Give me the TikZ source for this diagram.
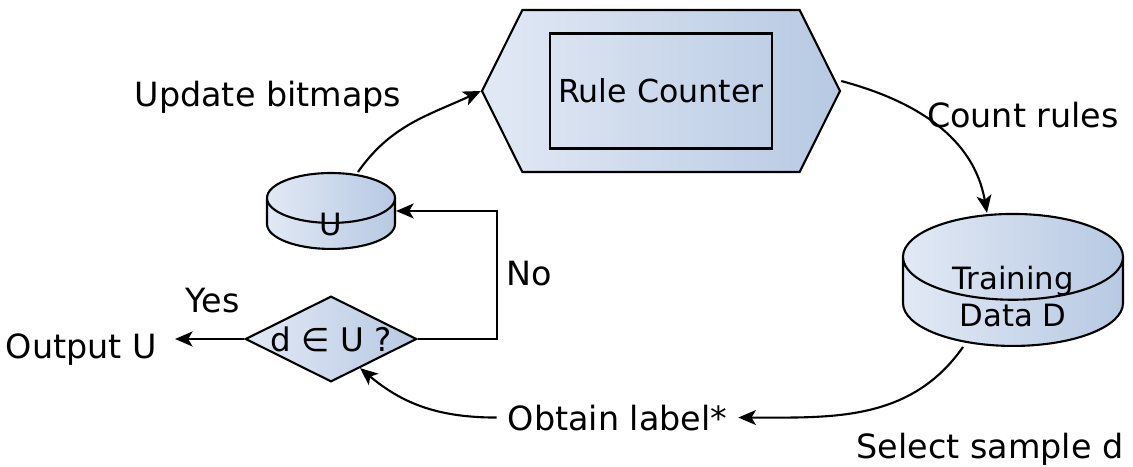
\documentclass[tikz,border=0pt]{standalone}
\usepackage{fontspec}
\setmainfont{DejaVu Sans}
\usetikzlibrary{arrows.meta,shapes.geometric,shapes.symbols}
\definecolor{boxlight}{RGB}{226,233,245}
\definecolor{boxdark}{RGB}{183,201,227}

\begin{document}
\begin{tikzpicture}[>={Stealth[length=10pt,width=8.5pt,inset=2.5pt]},
        line width=1.2pt,font=\fontsize{19}{22}\selectfont,
        filled/.style={draw,left color=boxlight,right color=boxdark},
        store/.style={filled,cylinder,shape border rotate=90,aspect=0.39,inner sep=0pt,anchor=south},
        storetext/.style={align=center,inner sep=0pt,font=\fontsize{17.5}{21}\selectfont},
        plain/.style={inner sep=0pt,anchor=base}]
        \useasboundingbox (0,0) rectangle (22.66,9.32);
        \node[filled,signal,signal to=west and east,signal pointer angle=127,
              minimum width=7.16cm,minimum height=3.24cm] (counter) at (13.22,7.50) {};
        \node[draw,minimum width=4.44cm,minimum height=2.3cm,font=\fontsize{18}{21}\selectfont] (rules) at (counter) {Rule Counter};
        \node[store,text width=2.56cm,minimum height=1.5cm,
              label={[storetext,yshift=-0.02cm]center:U}] (U) at (6.62,4.32) {};
        \node[filled,diamond,aspect=2,inner sep=0pt,minimum width=3.3cm,minimum height=1.66cm,
              font=\fontsize{18.5}{21}\selectfont] (dia) at (6.62,2.54) {d ∈ U ?};
        \node[store,text width=4.4cm,minimum height=2.64cm,
              label={[storetext,yshift=0.11cm]center:{Training\\Data D}}] (train) at (20.26,2.38) {};
        \node[plain] (update) at (5.36,7.18) {Update bitmaps};
        \node[plain] (count) at (20.46,6.76) {Count rules};
        \node[plain] (select) at (19.8,0.16) {Select sample d};
        \node[plain] (yes) at (4.25,3.08) {Yes};
        \node[plain] (no) at (10.58,3.60) {No};
        \node[anchor=base,inner xsep=0.2cm] (obtain) at (12.35,0.72) {Obtain label*};
        \node[anchor=base east,inner xsep=0.34cm,inner ysep=0pt] (output) at (3.5,2.16) {Output U};
        \path[->]
        ([xshift=0.54cm]U.north) edge[out=55,in=205] (counter.west)
        ([yshift=0.2cm]counter.east) edge[out=-15,in=100] ([xshift=-0.52cm]train.north)
        ([xshift=-1cm]train.south) edge[out=235,in=0] (obtain.east)
        (obtain.west) edge[out=180,in=-40] (dia.-45)
        (dia.west) edge (dia.west -| output.east)
        ;
        \draw[->] (dia.east) -- ++(1.58,0) |- (U.shape center -| U.east);
\end{tikzpicture}
\end{document}
